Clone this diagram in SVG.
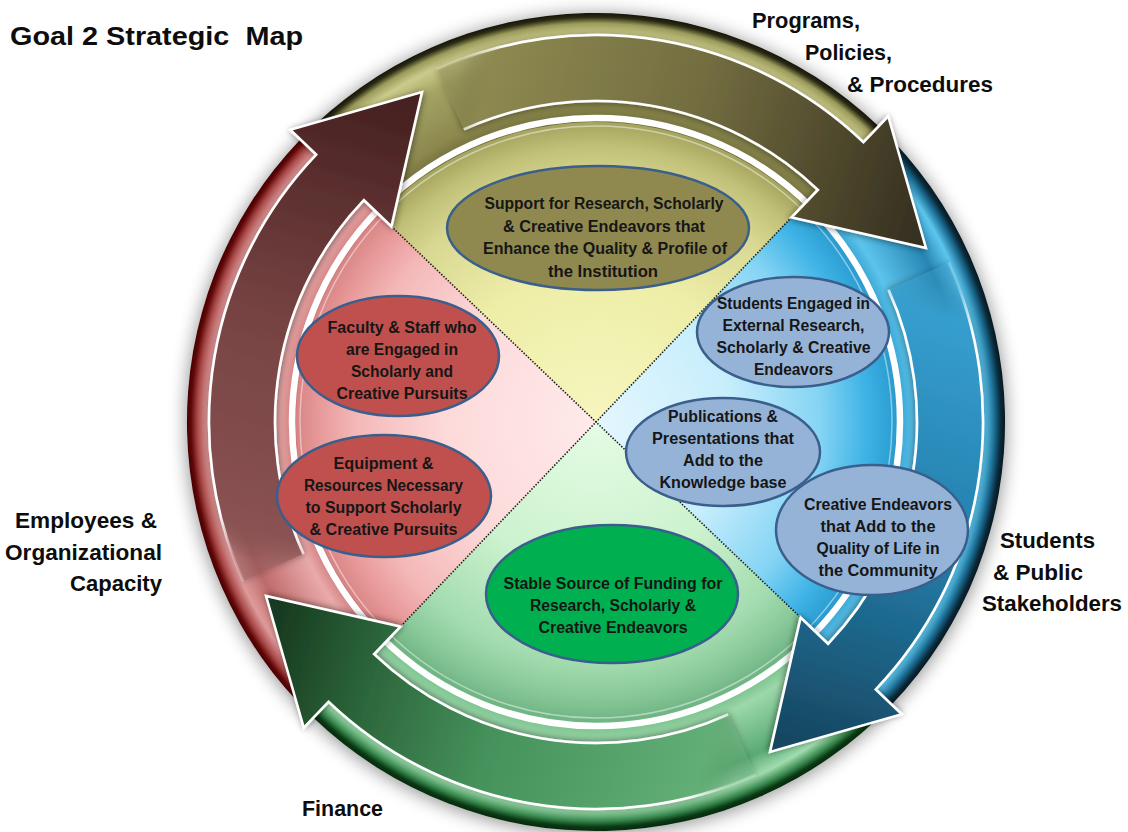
<svg xmlns="http://www.w3.org/2000/svg" width="1128" height="832" viewBox="0 0 1128 832">
<style>
  text { font-family: "Liberation Sans", Arial, sans-serif; font-weight: bold; fill: #161616; white-space: pre; }
  .lbl { font-size: 22px; fill: #0d0d0d; }
  .title { font-size: 26px; fill: #0d0d0d; }
  .nt { font-size: 16px; text-anchor: middle; }
  .node ellipse { stroke: #3A5F8C; stroke-width: 2.5; }
  .edge { fill: none; stroke: url(#fadeW); stroke-width: 2.6; stroke-linejoin: miter; }
  .dot { stroke: #111; stroke-width: 1.6; stroke-dasharray: 1.3 1.7; fill: none; }
</style>
<defs>
  <filter id="blur" x="-20%" y="-20%" width="140%" height="140%"><feGaussianBlur stdDeviation="9"/></filter>
  <filter id="sh" x="-20%" y="-20%" width="140%" height="140%"><feDropShadow dx="1" dy="1" stdDeviation="3" flood-color="#000" flood-opacity="0.45"/></filter>
  <radialGradient id="dOlive" gradientUnits="userSpaceOnUse" cx="596" cy="422" r="409">
    <stop offset="0.73" stop-color="#6E6A3A"/><stop offset="0.78" stop-color="#8C884E"/><stop offset="0.9" stop-color="#A4A464"/>
    <stop offset="0.95" stop-color="#CBCB8C"/><stop offset="0.975" stop-color="#9A9A5A"/><stop offset="0.99" stop-color="#2A2A14"/><stop offset="1" stop-color="#151508"/>
  </radialGradient>
  <radialGradient id="dBlue" gradientUnits="userSpaceOnUse" cx="596" cy="422" r="409">
    <stop offset="0.73" stop-color="#2A98C8"/><stop offset="0.78" stop-color="#5CC4EC"/><stop offset="0.9" stop-color="#2686B4"/>
    <stop offset="0.95" stop-color="#5CC6EE"/><stop offset="0.975" stop-color="#1A6A90"/><stop offset="0.99" stop-color="#0A2A3A"/><stop offset="1" stop-color="#051820"/>
  </radialGradient>
  <radialGradient id="dGreen" gradientUnits="userSpaceOnUse" cx="596" cy="422" r="409">
    <stop offset="0.73" stop-color="#6AB880"/><stop offset="0.78" stop-color="#9CD8AA"/><stop offset="0.9" stop-color="#5AAA72"/>
    <stop offset="0.95" stop-color="#A0DCAE"/><stop offset="0.975" stop-color="#3A8A50"/><stop offset="0.99" stop-color="#0A3A14"/><stop offset="1" stop-color="#052A0A"/>
  </radialGradient>
  <radialGradient id="dRed" gradientUnits="userSpaceOnUse" cx="596" cy="422" r="409">
    <stop offset="0.73" stop-color="#C87070"/><stop offset="0.78" stop-color="#EAAAAA"/><stop offset="0.9" stop-color="#BE6A6A"/>
    <stop offset="0.95" stop-color="#DE9A9A"/><stop offset="0.975" stop-color="#A84848"/><stop offset="0.99" stop-color="#620808"/><stop offset="1" stop-color="#440000"/>
  </radialGradient>
  <radialGradient id="iYellow" gradientUnits="userSpaceOnUse" cx="596" cy="422" r="300">
    <stop offset="0" stop-color="#F6F6BE"/><stop offset="0.5" stop-color="#EEEEA8"/><stop offset="0.8" stop-color="#D8D892"/><stop offset="0.92" stop-color="#C0C078"/><stop offset="1" stop-color="#A4A45E"/>
  </radialGradient>
  <radialGradient id="iBlue" gradientUnits="userSpaceOnUse" cx="596" cy="422" r="300">
    <stop offset="0" stop-color="#E4F6FE"/><stop offset="0.45" stop-color="#C8EEFC"/><stop offset="0.75" stop-color="#84D4F4"/><stop offset="0.9" stop-color="#40B4E6"/><stop offset="1" stop-color="#2A9CD0"/>
  </radialGradient>
  <radialGradient id="iGreen" gradientUnits="userSpaceOnUse" cx="596" cy="422" r="300">
    <stop offset="0" stop-color="#E4FCE4"/><stop offset="0.5" stop-color="#CCF2CE"/><stop offset="0.8" stop-color="#A4DCB0"/><stop offset="0.92" stop-color="#88C898"/><stop offset="1" stop-color="#70B484"/>
  </radialGradient>
  <radialGradient id="iPink" gradientUnits="userSpaceOnUse" cx="596" cy="422" r="300">
    <stop offset="0" stop-color="#FFEAEA"/><stop offset="0.5" stop-color="#FDDADA"/><stop offset="0.8" stop-color="#F4B8B8"/><stop offset="0.92" stop-color="#E89A9A"/><stop offset="1" stop-color="#D88484"/>
  </radialGradient>
  <linearGradient id="aRed" gradientUnits="userSpaceOnUse" x1="273" y1="568" x2="410" y2="105">
    <stop offset="0" stop-color="#8E5656" stop-opacity="0.35"/><stop offset="0.07" stop-color="#8A5252"/><stop offset="0.5" stop-color="#764242"/><stop offset="0.8" stop-color="#5A2E2E"/><stop offset="1" stop-color="#462020"/>
  </linearGradient>
  <linearGradient id="aOlive" gradientUnits="userSpaceOnUse" x1="273" y1="568" x2="410" y2="105">
    <stop offset="0" stop-color="#908C54" stop-opacity="0.35"/><stop offset="0.07" stop-color="#8C8850"/><stop offset="0.5" stop-color="#726C40"/><stop offset="0.8" stop-color="#4E482C"/><stop offset="1" stop-color="#363020"/>
  </linearGradient>
  <linearGradient id="aBlue" gradientUnits="userSpaceOnUse" x1="273" y1="568" x2="410" y2="105">
    <stop offset="0" stop-color="#3AA6D6" stop-opacity="0.35"/><stop offset="0.07" stop-color="#369ECE"/><stop offset="0.5" stop-color="#2480AE"/><stop offset="0.8" stop-color="#1C5E80"/><stop offset="1" stop-color="#174660"/>
  </linearGradient>
  <linearGradient id="aGreen" gradientUnits="userSpaceOnUse" x1="273" y1="568" x2="410" y2="105">
    <stop offset="0" stop-color="#68B47C" stop-opacity="0.35"/><stop offset="0.07" stop-color="#62AE76"/><stop offset="0.5" stop-color="#46925C"/><stop offset="0.8" stop-color="#2A6238"/><stop offset="1" stop-color="#183A20"/>
  </linearGradient>
  <linearGradient id="fadeW" gradientUnits="userSpaceOnUse" x1="273" y1="568" x2="410" y2="105">
    <stop offset="0" stop-color="#ffffff" stop-opacity="0.2"/><stop offset="0.08" stop-color="#ffffff" stop-opacity="1"/><stop offset="1" stop-color="#ffffff" stop-opacity="1"/>
  </linearGradient>
</defs>

<rect width="1128" height="832" fill="#ffffff"/>

<!-- soft shadow around the ring -->
<circle cx="596" cy="424" r="410" fill="#000" opacity="0.42" filter="url(#blur)"/>

<!-- outer ring segments -->
<g id="ring">
  <path d="M596 422 L300.3 139.4 A409 409 0 0 1 878.6 126.3 Z" fill="url(#dOlive)"/>
  <path d="M596 422 L300.3 139.4 A409 409 0 0 1 878.6 126.3 Z" fill="url(#dBlue)" transform="rotate(90 596 422)"/>
  <path d="M596 422 L300.3 139.4 A409 409 0 0 1 878.6 126.3 Z" fill="url(#dGreen)" transform="rotate(180 596 422)"/>
  <path d="M596 422 L300.3 139.4 A409 409 0 0 1 878.6 126.3 Z" fill="url(#dRed)" transform="rotate(270 596 422)"/>
</g>

<!-- inner quadrants -->
<g id="quadrants">
  <path d="M596 422 L379.1 214.7 A300 300 0 0 1 803.3 205.1 Z" fill="url(#iYellow)"/>
  <path d="M596 422 L379.1 214.7 A300 300 0 0 1 803.3 205.1 Z" fill="url(#iBlue)" transform="rotate(90 596 422)"/>
  <path d="M596 422 L379.1 214.7 A300 300 0 0 1 803.3 205.1 Z" fill="url(#iGreen)" transform="rotate(180 596 422)"/>
  <path d="M596 422 L379.1 214.7 A300 300 0 0 1 803.3 205.1 Z" fill="url(#iPink)" transform="rotate(270 596 422)"/>
  <circle cx="596" cy="422" r="304" fill="none" stroke="#ffffff" stroke-width="6.5"/>
  <circle cx="596" cy="422" r="296" fill="none" stroke="#ffffff" stroke-opacity="0.45" stroke-width="1.5"/>
  <line class="dot" x1="391.4" y1="226.5" x2="800.6" y2="617.5"/>
  <line class="dot" x1="791.5" y1="217.4" x2="400.5" y2="626.6"/>
</g>

<!-- curved cycle arrows -->
<g id="connectors">
  <g id="arrow-capacity" filter="url(#sh)">
    <path d="M243.3 581.3 A387 387 0 0 1 316.2 154.6 L290.2 129.8 L422.0 92.0 L391.4 226.5 L363.9 200.2 A321 321 0 0 0 303.4 554.1 Z" fill="url(#aRed)"/>
    <path class="edge" d="M243.3 581.3 A387 387 0 0 1 316.2 154.6 L290.2 129.8 L422.0 92.0 L391.4 226.5 L363.9 200.2 A321 321 0 0 0 303.4 554.1"/>
  </g>
  <g id="arrow-programs" filter="url(#sh)" transform="rotate(90 596 422)">
    <path d="M243.3 581.3 A387 387 0 0 1 316.2 154.6 L290.2 129.8 L422.0 92.0 L391.4 226.5 L363.9 200.2 A321 321 0 0 0 303.4 554.1 Z" fill="url(#aOlive)"/>
    <path class="edge" d="M243.3 581.3 A387 387 0 0 1 316.2 154.6 L290.2 129.8 L422.0 92.0 L391.4 226.5 L363.9 200.2 A321 321 0 0 0 303.4 554.1"/>
  </g>
  <g id="arrow-students" filter="url(#sh)" transform="rotate(180 596 422)">
    <path d="M243.3 581.3 A387 387 0 0 1 316.2 154.6 L290.2 129.8 L422.0 92.0 L391.4 226.5 L363.9 200.2 A321 321 0 0 0 303.4 554.1 Z" fill="url(#aBlue)"/>
    <path class="edge" d="M243.3 581.3 A387 387 0 0 1 316.2 154.6 L290.2 129.8 L422.0 92.0 L391.4 226.5 L363.9 200.2 A321 321 0 0 0 303.4 554.1"/>
  </g>
  <g id="arrow-finance" filter="url(#sh)" transform="rotate(270 596 422)">
    <path d="M243.3 581.3 A387 387 0 0 1 316.2 154.6 L290.2 129.8 L422.0 92.0 L391.4 226.5 L363.9 200.2 A321 321 0 0 0 303.4 554.1 Z" fill="url(#aGreen)"/>
    <path class="edge" d="M243.3 581.3 A387 387 0 0 1 316.2 154.6 L290.2 129.8 L422.0 92.0 L391.4 226.5 L363.9 200.2 A321 321 0 0 0 303.4 554.1"/>
  </g>
</g>

<!-- nodes -->
<g id="node-support" class="node">
  <ellipse cx="598" cy="228" rx="151" ry="62" fill="#8F8950"/>
  <text class="nt" x="604" y="209" textLength="239" lengthAdjust="spacingAndGlyphs">Support for Research, Scholarly</text>
  <text class="nt" x="604" y="231.5" textLength="202" lengthAdjust="spacingAndGlyphs">&amp; Creative Endeavors that</text>
  <text class="nt" x="605" y="254" textLength="244" lengthAdjust="spacingAndGlyphs">Enhance the Quality &amp; Profile of</text>
  <text class="nt" x="603" y="276.5" textLength="110" lengthAdjust="spacingAndGlyphs">the Institution</text>
</g>
<g id="node-faculty" class="node">
  <ellipse cx="398" cy="356" rx="101" ry="60" fill="#C0504D"/>
  <text class="nt" x="402" y="332.5" textLength="149" lengthAdjust="spacingAndGlyphs">Faculty &amp; Staff who</text>
  <text class="nt" x="402" y="355" textLength="112" lengthAdjust="spacingAndGlyphs">are Engaged in</text>
  <text class="nt" x="402" y="377" textLength="102" lengthAdjust="spacingAndGlyphs">Scholarly and</text>
  <text class="nt" x="402" y="399" textLength="131" lengthAdjust="spacingAndGlyphs">Creative Pursuits</text>
</g>
<g id="node-equipment" class="node">
  <ellipse cx="384" cy="496" rx="107" ry="61" fill="#C0504D"/>
  <text class="nt" x="383.5" y="468.5" textLength="100" lengthAdjust="spacingAndGlyphs">Equipment &amp;</text>
  <text class="nt" x="383.5" y="490.5" textLength="159" lengthAdjust="spacingAndGlyphs">Resources Necessary</text>
  <text class="nt" x="383.5" y="512.5" textLength="156" lengthAdjust="spacingAndGlyphs">to Support Scholarly</text>
  <text class="nt" x="383.5" y="534.5" textLength="148" lengthAdjust="spacingAndGlyphs">&amp; Creative Pursuits</text>
</g>
<g id="node-funding" class="node">
  <ellipse cx="612" cy="594" rx="126" ry="69" fill="#00B050"/>
  <text class="nt" x="613" y="588.5" textLength="219" lengthAdjust="spacingAndGlyphs">Stable Source of Funding for</text>
  <text class="nt" x="613" y="610.5" textLength="166" lengthAdjust="spacingAndGlyphs">Research, Scholarly &amp;</text>
  <text class="nt" x="613" y="632.5" textLength="149" lengthAdjust="spacingAndGlyphs">Creative Endeavors</text>
</g>
<g id="node-students" class="node">
  <ellipse cx="793" cy="332" rx="96" ry="55" fill="#95B3D7"/>
  <text class="nt" x="793.5" y="308.5" textLength="153" lengthAdjust="spacingAndGlyphs">Students Engaged in</text>
  <text class="nt" x="793.5" y="330.5" textLength="142" lengthAdjust="spacingAndGlyphs">External Research,</text>
  <text class="nt" x="793.5" y="352.5" textLength="154" lengthAdjust="spacingAndGlyphs">Scholarly &amp; Creative</text>
  <text class="nt" x="793.5" y="374.5" textLength="79" lengthAdjust="spacingAndGlyphs">Endeavors</text>
</g>
<g id="node-publications" class="node">
  <ellipse cx="723" cy="452" rx="97" ry="54" fill="#95B3D7"/>
  <text class="nt" x="723" y="421.5" textLength="110" lengthAdjust="spacingAndGlyphs">Publications &amp;</text>
  <text class="nt" x="723" y="443.5" textLength="142" lengthAdjust="spacingAndGlyphs">Presentations that</text>
  <text class="nt" x="723" y="465.5" textLength="80" lengthAdjust="spacingAndGlyphs">Add to the</text>
  <text class="nt" x="723" y="487.5" textLength="127" lengthAdjust="spacingAndGlyphs">Knowledge base</text>
</g>
<g id="node-community" class="node">
  <ellipse cx="872" cy="530" rx="96" ry="65" fill="#95B3D7"/>
  <text class="nt" x="878" y="509.5" textLength="148" lengthAdjust="spacingAndGlyphs">Creative Endeavors</text>
  <text class="nt" x="878" y="531.5" textLength="115" lengthAdjust="spacingAndGlyphs">that Add to the</text>
  <text class="nt" x="878" y="553.5" textLength="123" lengthAdjust="spacingAndGlyphs">Quality of Life in</text>
  <text class="nt" x="878" y="576" textLength="119" lengthAdjust="spacingAndGlyphs">the Community</text>
</g>

<!-- outer labels -->
<g id="labels">
  <text class="title" x="10" y="45" textLength="293" lengthAdjust="spacingAndGlyphs">Goal 2 Strategic  Map</text>
  <text class="lbl" x="752" y="28" textLength="108" lengthAdjust="spacingAndGlyphs">Programs,</text>
  <text class="lbl" x="805" y="60" textLength="87" lengthAdjust="spacingAndGlyphs">Policies,</text>
  <text class="lbl" x="847" y="92" textLength="146" lengthAdjust="spacingAndGlyphs">&amp; Procedures</text>
  <text class="lbl" x="15" y="528" textLength="142" lengthAdjust="spacingAndGlyphs">Employees &amp;</text>
  <text class="lbl" x="5" y="560" textLength="157" lengthAdjust="spacingAndGlyphs">Organizational</text>
  <text class="lbl" x="70" y="591" textLength="92" lengthAdjust="spacingAndGlyphs">Capacity</text>
  <text class="lbl" x="1000" y="548" textLength="95" lengthAdjust="spacingAndGlyphs">Students</text>
  <text class="lbl" x="993" y="580" textLength="90" lengthAdjust="spacingAndGlyphs">&amp; Public</text>
  <text class="lbl" x="982" y="611" textLength="140" lengthAdjust="spacingAndGlyphs">Stakeholders</text>
  <text class="lbl" x="302" y="816" textLength="81" lengthAdjust="spacingAndGlyphs">Finance</text>
</g>
</svg>
